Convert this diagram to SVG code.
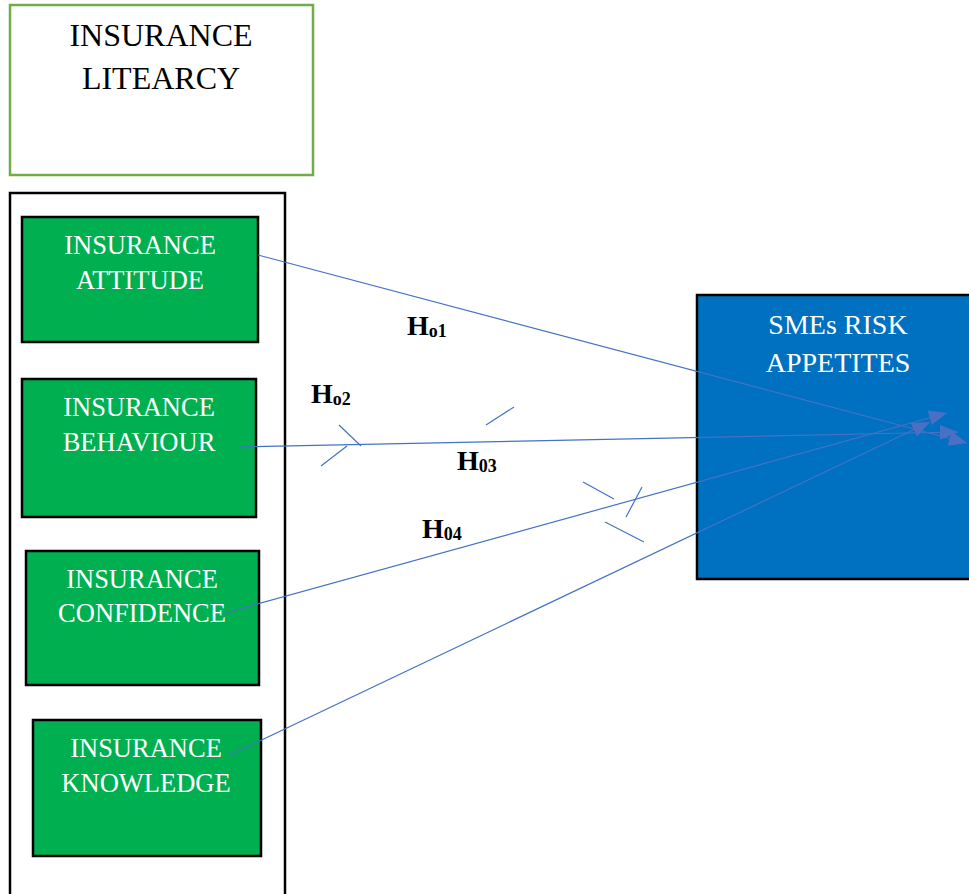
<svg xmlns="http://www.w3.org/2000/svg" width="969" height="894" viewBox="0 0 969 894">
<defs>
<style>
.t{font-family:"Liberation Serif","Times New Roman",serif;text-anchor:middle}
.w{fill:#fff;font-size:26.5px}
.g{fill:#00B050;stroke:#000;stroke-width:2.5}
.c{stroke:#4472C4;stroke-width:1.2;fill:none}
.lb{font-family:"Liberation Serif","Times New Roman",serif;font-weight:bold;font-size:28px;fill:#000}
.sb{font-size:18px}
</style>
<marker id="ah" markerUnits="userSpaceOnUse" markerWidth="20" markerHeight="16" refX="18" refY="7.5" orient="auto">
<path d="M0,0 L18,7.5 L0,15 z" fill="#4A6FC4"/>
</marker>
</defs>
<rect width="969" height="894" fill="#fff"/>
<g id="literacy">
<rect x="10" y="5" width="303" height="170" fill="#fff" stroke="#70AD47" stroke-width="2.5"/>
<text class="t" x="161" y="46" font-size="32">INSURANCE</text>
<text class="t" x="161" y="89" font-size="32">LITEARCY</text>
</g>
<g id="container">
<rect x="10" y="193" width="275" height="710" fill="#fff" stroke="#000" stroke-width="2.5"/>
</g>
<g id="attitude">
<rect class="g" x="22" y="217" width="236" height="125"/>
<text class="t w" x="140" y="254">INSURANCE</text>
<text class="t w" x="140" y="289">ATTITUDE</text>
</g>
<g id="behaviour">
<rect class="g" x="22" y="379" width="234" height="138"/>
<text class="t w" x="139" y="416">INSURANCE</text>
<text class="t w" x="139" y="451">BEHAVIOUR</text>
</g>
<g id="confidence">
<rect class="g" x="26" y="551" width="233" height="134"/>
<text class="t w" x="142" y="588">INSURANCE</text>
<text class="t w" x="142" y="622">CONFIDENCE</text>
</g>
<g id="knowledge">
<rect class="g" x="33" y="720" width="228" height="136"/>
<text class="t w" x="146" y="757">INSURANCE</text>
<text class="t w" x="146" y="792">KNOWLEDGE</text>
</g>
<g id="sme">
<rect x="697" y="295" width="290" height="284" fill="#0070C0" stroke="#000" stroke-width="2.5"/>
<text class="t" x="838" y="334" font-size="28" fill="#fff">SMEs RISK</text>
<text class="t" x="838" y="372" font-size="28" fill="#fff">APPETITES</text>
</g>
<g id="connectors">
<line class="c" x1="258" y1="255" x2="967" y2="443" marker-end="url(#ah)"/>
<line class="c" x1="240" y1="447" x2="958" y2="432" marker-end="url(#ah)"/>
<line class="c" x1="225" y1="613" x2="947" y2="413" marker-end="url(#ah)"/>
<line class="c" x1="230" y1="755" x2="930" y2="422" marker-end="url(#ah)"/>
<line class="c" x1="339" y1="425" x2="361" y2="446"/>
<line class="c" x1="321" y1="466" x2="347" y2="446"/>
<line class="c" x1="486" y1="425" x2="514" y2="407"/>
<line class="c" x1="583" y1="482" x2="614" y2="499"/>
<line class="c" x1="642" y1="487" x2="626" y2="517"/>
<line class="c" x1="605" y1="522" x2="644" y2="542"/>
</g>
<g id="labels">
<text class="lb" x="407" y="335">H<tspan class="sb" dy="2">o1</tspan></text>
<text class="lb" x="311" y="403">H<tspan class="sb" dy="2">o2</tspan></text>
<text class="lb" x="457" y="470">H<tspan class="sb" dy="2">03</tspan></text>
<text class="lb" x="422" y="538">H<tspan class="sb" dy="2">04</tspan></text>
</g>
</svg>
